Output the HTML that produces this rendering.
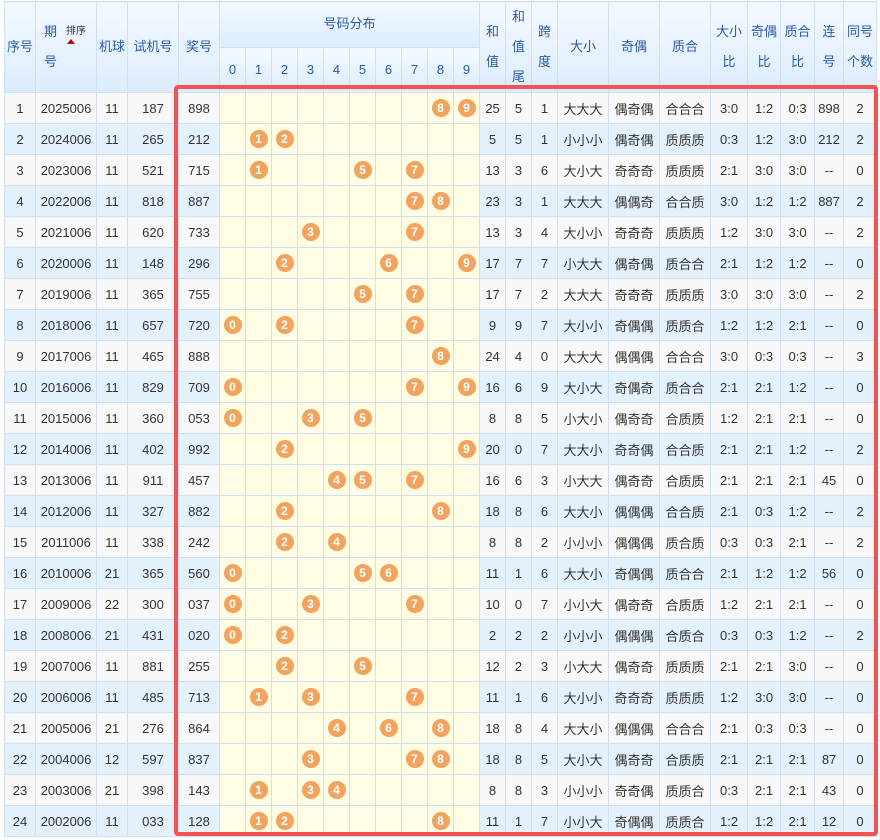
<!DOCTYPE html>
<html><head><meta charset="utf-8"><style>
body{margin:0;background:#fff;width:880px;height:840px;overflow:hidden;font-family:"Liberation Sans","Noto Sans CJK SC",sans-serif;}
table{position:absolute;left:4px;top:1px;border-collapse:collapse;table-layout:fixed;width:872px;font-size:13px;color:#333;}
td,th{border:1px solid #cfe0f2;text-align:center;padding:0;overflow:hidden;white-space:nowrap;}
th{background:linear-gradient(#f4f9ff,#dcecfc);color:#2a5ba8;font-weight:normal;font-size:13px;line-height:30px;}
tbody tr{height:31px;}
tbody tr:nth-child(odd) td{background:#f8f8f8;}
tbody tr:nth-child(even) td{background:#e3f1fd;}
tbody tr td.y{background:#fefce3 !important;}
i.b{display:inline-block;width:18px;height:18px;border-radius:50%;background:#f2a35e;color:#fff;font-style:normal;font-weight:bold;font-size:12px;line-height:18px;vertical-align:middle;}
.box{position:absolute;left:174px;top:85px;width:696px;height:743px;border:4px solid #f25252;border-radius:4px;}
.sm{font-size:10px;color:#333;position:absolute;left:66px;top:27px;line-height:10px}
.ar{position:absolute;left:67px;top:39px;width:0;height:0;border-left:4px solid transparent;border-right:4px solid transparent;border-bottom:5px solid #b00;}
</style></head><body>
<table>
<colgroup><col style="width:31px"><col style="width:61px"><col style="width:31px"><col style="width:51px"><col style="width:41px">
<col style="width:26px"><col style="width:26px"><col style="width:26px"><col style="width:26px"><col style="width:26px"><col style="width:26px"><col style="width:26px"><col style="width:26px"><col style="width:26px"><col style="width:26px">
<col style="width:26px"><col style="width:26px"><col style="width:26px"><col style="width:51px"><col style="width:51px"><col style="width:51px"><col style="width:37px"><col style="width:33px"><col style="width:34px"><col style="width:29px"><col style="width:33px"></colgroup>
<thead>
<tr style="height:45px"><th rowspan="2">序号</th><th rowspan="2" style="text-align:left;padding-left:8px">期<br>号</th><th rowspan="2">机球</th><th rowspan="2">试机号</th><th rowspan="2">奖号</th><th colspan="10" style="line-height:22px">号码分布</th><th rowspan="2">和<br>值</th><th rowspan="2">和<br>值<br>尾</th><th rowspan="2">跨<br>度</th><th rowspan="2">大小</th><th rowspan="2">奇偶</th><th rowspan="2">质合</th><th rowspan="2">大小<br>比</th><th rowspan="2">奇偶<br>比</th><th rowspan="2">质合<br>比</th><th rowspan="2">连<br>号</th><th rowspan="2">同号<br>个数</th></tr>
<tr style="height:45px"><th>0</th><th>1</th><th>2</th><th>3</th><th>4</th><th>5</th><th>6</th><th>7</th><th>8</th><th>9</th></tr>
</thead>
<tbody>
<tr><td>1</td><td>2025006</td><td>11</td><td>187</td><td>898</td><td class=y></td><td class=y></td><td class=y></td><td class=y></td><td class=y></td><td class=y></td><td class=y></td><td class=y></td><td class=y><i class=b>8</i></td><td class=y><i class=b>9</i></td><td>25</td><td>5</td><td>1</td><td>大大大</td><td>偶奇偶</td><td>合合合</td><td>3:0</td><td>1:2</td><td>0:3</td><td>898</td><td>2</td></tr>
<tr><td>2</td><td>2024006</td><td>11</td><td>265</td><td>212</td><td class=y></td><td class=y><i class=b>1</i></td><td class=y><i class=b>2</i></td><td class=y></td><td class=y></td><td class=y></td><td class=y></td><td class=y></td><td class=y></td><td class=y></td><td>5</td><td>5</td><td>1</td><td>小小小</td><td>偶奇偶</td><td>质质质</td><td>0:3</td><td>1:2</td><td>3:0</td><td>212</td><td>2</td></tr>
<tr><td>3</td><td>2023006</td><td>11</td><td>521</td><td>715</td><td class=y></td><td class=y><i class=b>1</i></td><td class=y></td><td class=y></td><td class=y></td><td class=y><i class=b>5</i></td><td class=y></td><td class=y><i class=b>7</i></td><td class=y></td><td class=y></td><td>13</td><td>3</td><td>6</td><td>大小大</td><td>奇奇奇</td><td>质质质</td><td>2:1</td><td>3:0</td><td>3:0</td><td>--</td><td>0</td></tr>
<tr><td>4</td><td>2022006</td><td>11</td><td>818</td><td>887</td><td class=y></td><td class=y></td><td class=y></td><td class=y></td><td class=y></td><td class=y></td><td class=y></td><td class=y><i class=b>7</i></td><td class=y><i class=b>8</i></td><td class=y></td><td>23</td><td>3</td><td>1</td><td>大大大</td><td>偶偶奇</td><td>合合质</td><td>3:0</td><td>1:2</td><td>1:2</td><td>887</td><td>2</td></tr>
<tr><td>5</td><td>2021006</td><td>11</td><td>620</td><td>733</td><td class=y></td><td class=y></td><td class=y></td><td class=y><i class=b>3</i></td><td class=y></td><td class=y></td><td class=y></td><td class=y><i class=b>7</i></td><td class=y></td><td class=y></td><td>13</td><td>3</td><td>4</td><td>大小小</td><td>奇奇奇</td><td>质质质</td><td>1:2</td><td>3:0</td><td>3:0</td><td>--</td><td>2</td></tr>
<tr><td>6</td><td>2020006</td><td>11</td><td>148</td><td>296</td><td class=y></td><td class=y></td><td class=y><i class=b>2</i></td><td class=y></td><td class=y></td><td class=y></td><td class=y><i class=b>6</i></td><td class=y></td><td class=y></td><td class=y><i class=b>9</i></td><td>17</td><td>7</td><td>7</td><td>小大大</td><td>偶奇偶</td><td>质合合</td><td>2:1</td><td>1:2</td><td>1:2</td><td>--</td><td>0</td></tr>
<tr><td>7</td><td>2019006</td><td>11</td><td>365</td><td>755</td><td class=y></td><td class=y></td><td class=y></td><td class=y></td><td class=y></td><td class=y><i class=b>5</i></td><td class=y></td><td class=y><i class=b>7</i></td><td class=y></td><td class=y></td><td>17</td><td>7</td><td>2</td><td>大大大</td><td>奇奇奇</td><td>质质质</td><td>3:0</td><td>3:0</td><td>3:0</td><td>--</td><td>2</td></tr>
<tr><td>8</td><td>2018006</td><td>11</td><td>657</td><td>720</td><td class=y><i class=b>0</i></td><td class=y></td><td class=y><i class=b>2</i></td><td class=y></td><td class=y></td><td class=y></td><td class=y></td><td class=y><i class=b>7</i></td><td class=y></td><td class=y></td><td>9</td><td>9</td><td>7</td><td>大小小</td><td>奇偶偶</td><td>质质合</td><td>1:2</td><td>1:2</td><td>2:1</td><td>--</td><td>0</td></tr>
<tr><td>9</td><td>2017006</td><td>11</td><td>465</td><td>888</td><td class=y></td><td class=y></td><td class=y></td><td class=y></td><td class=y></td><td class=y></td><td class=y></td><td class=y></td><td class=y><i class=b>8</i></td><td class=y></td><td>24</td><td>4</td><td>0</td><td>大大大</td><td>偶偶偶</td><td>合合合</td><td>3:0</td><td>0:3</td><td>0:3</td><td>--</td><td>3</td></tr>
<tr><td>10</td><td>2016006</td><td>11</td><td>829</td><td>709</td><td class=y><i class=b>0</i></td><td class=y></td><td class=y></td><td class=y></td><td class=y></td><td class=y></td><td class=y></td><td class=y><i class=b>7</i></td><td class=y></td><td class=y><i class=b>9</i></td><td>16</td><td>6</td><td>9</td><td>大小大</td><td>奇偶奇</td><td>质合合</td><td>2:1</td><td>2:1</td><td>1:2</td><td>--</td><td>0</td></tr>
<tr><td>11</td><td>2015006</td><td>11</td><td>360</td><td>053</td><td class=y><i class=b>0</i></td><td class=y></td><td class=y></td><td class=y><i class=b>3</i></td><td class=y></td><td class=y><i class=b>5</i></td><td class=y></td><td class=y></td><td class=y></td><td class=y></td><td>8</td><td>8</td><td>5</td><td>小大小</td><td>偶奇奇</td><td>合质质</td><td>1:2</td><td>2:1</td><td>2:1</td><td>--</td><td>0</td></tr>
<tr><td>12</td><td>2014006</td><td>11</td><td>402</td><td>992</td><td class=y></td><td class=y></td><td class=y><i class=b>2</i></td><td class=y></td><td class=y></td><td class=y></td><td class=y></td><td class=y></td><td class=y></td><td class=y><i class=b>9</i></td><td>20</td><td>0</td><td>7</td><td>大大小</td><td>奇奇偶</td><td>合合质</td><td>2:1</td><td>2:1</td><td>1:2</td><td>--</td><td>2</td></tr>
<tr><td>13</td><td>2013006</td><td>11</td><td>911</td><td>457</td><td class=y></td><td class=y></td><td class=y></td><td class=y></td><td class=y><i class=b>4</i></td><td class=y><i class=b>5</i></td><td class=y></td><td class=y><i class=b>7</i></td><td class=y></td><td class=y></td><td>16</td><td>6</td><td>3</td><td>小大大</td><td>偶奇奇</td><td>合质质</td><td>2:1</td><td>2:1</td><td>2:1</td><td>45</td><td>0</td></tr>
<tr><td>14</td><td>2012006</td><td>11</td><td>327</td><td>882</td><td class=y></td><td class=y></td><td class=y><i class=b>2</i></td><td class=y></td><td class=y></td><td class=y></td><td class=y></td><td class=y></td><td class=y><i class=b>8</i></td><td class=y></td><td>18</td><td>8</td><td>6</td><td>大大小</td><td>偶偶偶</td><td>合合质</td><td>2:1</td><td>0:3</td><td>1:2</td><td>--</td><td>2</td></tr>
<tr><td>15</td><td>2011006</td><td>11</td><td>338</td><td>242</td><td class=y></td><td class=y></td><td class=y><i class=b>2</i></td><td class=y></td><td class=y><i class=b>4</i></td><td class=y></td><td class=y></td><td class=y></td><td class=y></td><td class=y></td><td>8</td><td>8</td><td>2</td><td>小小小</td><td>偶偶偶</td><td>质合质</td><td>0:3</td><td>0:3</td><td>2:1</td><td>--</td><td>2</td></tr>
<tr><td>16</td><td>2010006</td><td>21</td><td>365</td><td>560</td><td class=y><i class=b>0</i></td><td class=y></td><td class=y></td><td class=y></td><td class=y></td><td class=y><i class=b>5</i></td><td class=y><i class=b>6</i></td><td class=y></td><td class=y></td><td class=y></td><td>11</td><td>1</td><td>6</td><td>大大小</td><td>奇偶偶</td><td>质合合</td><td>2:1</td><td>1:2</td><td>1:2</td><td>56</td><td>0</td></tr>
<tr><td>17</td><td>2009006</td><td>22</td><td>300</td><td>037</td><td class=y><i class=b>0</i></td><td class=y></td><td class=y></td><td class=y><i class=b>3</i></td><td class=y></td><td class=y></td><td class=y></td><td class=y><i class=b>7</i></td><td class=y></td><td class=y></td><td>10</td><td>0</td><td>7</td><td>小小大</td><td>偶奇奇</td><td>合质质</td><td>1:2</td><td>2:1</td><td>2:1</td><td>--</td><td>0</td></tr>
<tr><td>18</td><td>2008006</td><td>21</td><td>431</td><td>020</td><td class=y><i class=b>0</i></td><td class=y></td><td class=y><i class=b>2</i></td><td class=y></td><td class=y></td><td class=y></td><td class=y></td><td class=y></td><td class=y></td><td class=y></td><td>2</td><td>2</td><td>2</td><td>小小小</td><td>偶偶偶</td><td>合质合</td><td>0:3</td><td>0:3</td><td>1:2</td><td>--</td><td>2</td></tr>
<tr><td>19</td><td>2007006</td><td>11</td><td>881</td><td>255</td><td class=y></td><td class=y></td><td class=y><i class=b>2</i></td><td class=y></td><td class=y></td><td class=y><i class=b>5</i></td><td class=y></td><td class=y></td><td class=y></td><td class=y></td><td>12</td><td>2</td><td>3</td><td>小大大</td><td>偶奇奇</td><td>质质质</td><td>2:1</td><td>2:1</td><td>3:0</td><td>--</td><td>0</td></tr>
<tr><td>20</td><td>2006006</td><td>11</td><td>485</td><td>713</td><td class=y></td><td class=y><i class=b>1</i></td><td class=y></td><td class=y><i class=b>3</i></td><td class=y></td><td class=y></td><td class=y></td><td class=y><i class=b>7</i></td><td class=y></td><td class=y></td><td>11</td><td>1</td><td>6</td><td>大小小</td><td>奇奇奇</td><td>质质质</td><td>1:2</td><td>3:0</td><td>3:0</td><td>--</td><td>0</td></tr>
<tr><td>21</td><td>2005006</td><td>21</td><td>276</td><td>864</td><td class=y></td><td class=y></td><td class=y></td><td class=y></td><td class=y><i class=b>4</i></td><td class=y></td><td class=y><i class=b>6</i></td><td class=y></td><td class=y><i class=b>8</i></td><td class=y></td><td>18</td><td>8</td><td>4</td><td>大大小</td><td>偶偶偶</td><td>合合合</td><td>2:1</td><td>0:3</td><td>0:3</td><td>--</td><td>0</td></tr>
<tr><td>22</td><td>2004006</td><td>12</td><td>597</td><td>837</td><td class=y></td><td class=y></td><td class=y></td><td class=y><i class=b>3</i></td><td class=y></td><td class=y></td><td class=y></td><td class=y><i class=b>7</i></td><td class=y><i class=b>8</i></td><td class=y></td><td>18</td><td>8</td><td>5</td><td>大小大</td><td>偶奇奇</td><td>合质质</td><td>2:1</td><td>2:1</td><td>2:1</td><td>87</td><td>0</td></tr>
<tr><td>23</td><td>2003006</td><td>21</td><td>398</td><td>143</td><td class=y></td><td class=y><i class=b>1</i></td><td class=y></td><td class=y><i class=b>3</i></td><td class=y><i class=b>4</i></td><td class=y></td><td class=y></td><td class=y></td><td class=y></td><td class=y></td><td>8</td><td>8</td><td>3</td><td>小小小</td><td>奇奇偶</td><td>质质合</td><td>0:3</td><td>2:1</td><td>2:1</td><td>43</td><td>0</td></tr>
<tr><td>24</td><td>2002006</td><td>11</td><td>033</td><td>128</td><td class=y></td><td class=y><i class=b>1</i></td><td class=y><i class=b>2</i></td><td class=y></td><td class=y></td><td class=y></td><td class=y></td><td class=y></td><td class=y><i class=b>8</i></td><td class=y></td><td>11</td><td>1</td><td>7</td><td>小小大</td><td>奇偶偶</td><td>质质合</td><td>1:2</td><td>1:2</td><td>2:1</td><td>12</td><td>0</td></tr>
</tbody></table>
<div class="sm">排序</div><div class="ar"></div>
<div class="box"></div>
</body></html>
